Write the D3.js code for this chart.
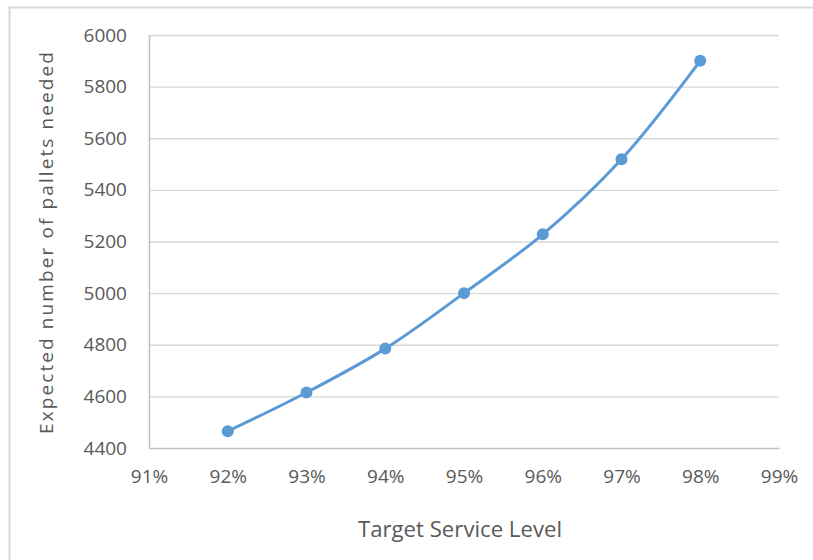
<!DOCTYPE html>
<html>
<head>
<meta charset="utf-8">
<script src="https://cdn.jsdelivr.net/npm/d3@7"></script>
<style>
  html, body { margin: 0; padding: 0; background: #fff; }
  text { font-family: "Open Sans", "DejaVu Sans", sans-serif; fill: #595959; }
</style>
</head>
<body>
<svg id="chart" width="813" height="560"></svg>
<script>
const serviceLevels = [92, 93, 94, 95, 96, 97, 98];
const palletsNeeded = [4465, 4615, 4785, 5000, 5228, 5519, 5900];
const xTickValues = [91, 92, 93, 94, 95, 96, 97, 98, 99];
const yTickValues = [4400, 4600, 4800, 5000, 5200, 5400, 5600, 5800, 6000];
const xTitle = "Target Service Level";
const yTitle = "Expected number of pallets needed";

(function () {
const svg = d3.select("#chart");
const pLeft = 149, pRight = 779, pTop = 35, pBottom = 448;

// outer border
svg.append("rect")
  .attr("x", 9.5).attr("y", 7.5)
  .attr("width", 830).attr("height", 600)
  .attr("fill", "none").attr("stroke", "#d9d9d9").attr("stroke-width", 2);

const x = d3.scaleLinear().domain([91, 99]).range([pLeft, pRight]);
const y = d3.scaleLinear().domain([4400, 6000]).range([pBottom, pTop]);

// gridlines
svg.append("g")
  .selectAll("line")
  .data(yTickValues.filter(v => v !== 4400))
  .join("line")
  .attr("x1", pLeft).attr("x2", pRight)
  .attr("y1", d => y(d) + 0.5).attr("y2", d => y(d) + 0.5)
  .attr("stroke", "#d9d9d9").attr("stroke-width", 1.3);

// Y axis
const yAxis = svg.append("g")
  .attr("transform", `translate(${pLeft},0)`)
  .call(d3.axisLeft(y).tickValues(yTickValues).tickSize(0).tickPadding(22).tickFormat(d3.format("d")));
yAxis.select(".domain").attr("stroke", "#bfbfbf").attr("stroke-width", 1.5);
yAxis.selectAll("text").style("font-size", "19px").style("font-family", "'Open Sans', sans-serif").attr("fill", "#595959");

// X axis
const xAxis = svg.append("g")
  .attr("transform", `translate(0,${pBottom})`)
  .call(d3.axisBottom(x).tickValues(xTickValues).tickSize(0).tickPadding(22).tickFormat(d => d + "%"));
xAxis.select(".domain").attr("stroke", "#bfbfbf").attr("stroke-width", 1.5);
xAxis.selectAll("text").style("font-size", "19px").style("font-family", "'Open Sans', sans-serif").attr("fill", "#595959");

// titles
svg.append("text")
  .attr("x", 460).attr("y", 537)
  .attr("text-anchor", "middle")
  .attr("textLength", 204).attr("lengthAdjust", "spacingAndGlyphs")
  .style("font-size", "21px")
  .text(xTitle);

svg.append("text")
  .attr("transform", "translate(53,243) rotate(-90)")
  .attr("text-anchor", "middle")
  .attr("textLength", 382).attr("lengthAdjust", "spacing")
  .style("font-size", "19px")
  .text(yTitle);

// line
const data = serviceLevels.map((s, i) => ({ s, v: palletsNeeded[i] }));
const line = d3.line().x(d => x(d.s)).y(d => y(d.v)).curve(d3.curveCatmullRom.alpha(0.5));
svg.append("path")
  .datum(data)
  .attr("d", line)
  .attr("fill", "none")
  .attr("stroke", "#5b9bd5")
  .attr("stroke-width", 3)
  .attr("stroke-linecap", "round");

svg.append("g")
  .selectAll("circle")
  .data(data)
  .join("circle")
  .attr("cx", d => x(d.s))
  .attr("cy", d => y(d.v))
  .attr("r", 6)
  .attr("fill", "#5b9bd5");
})();
</script>
</body>
</html>
